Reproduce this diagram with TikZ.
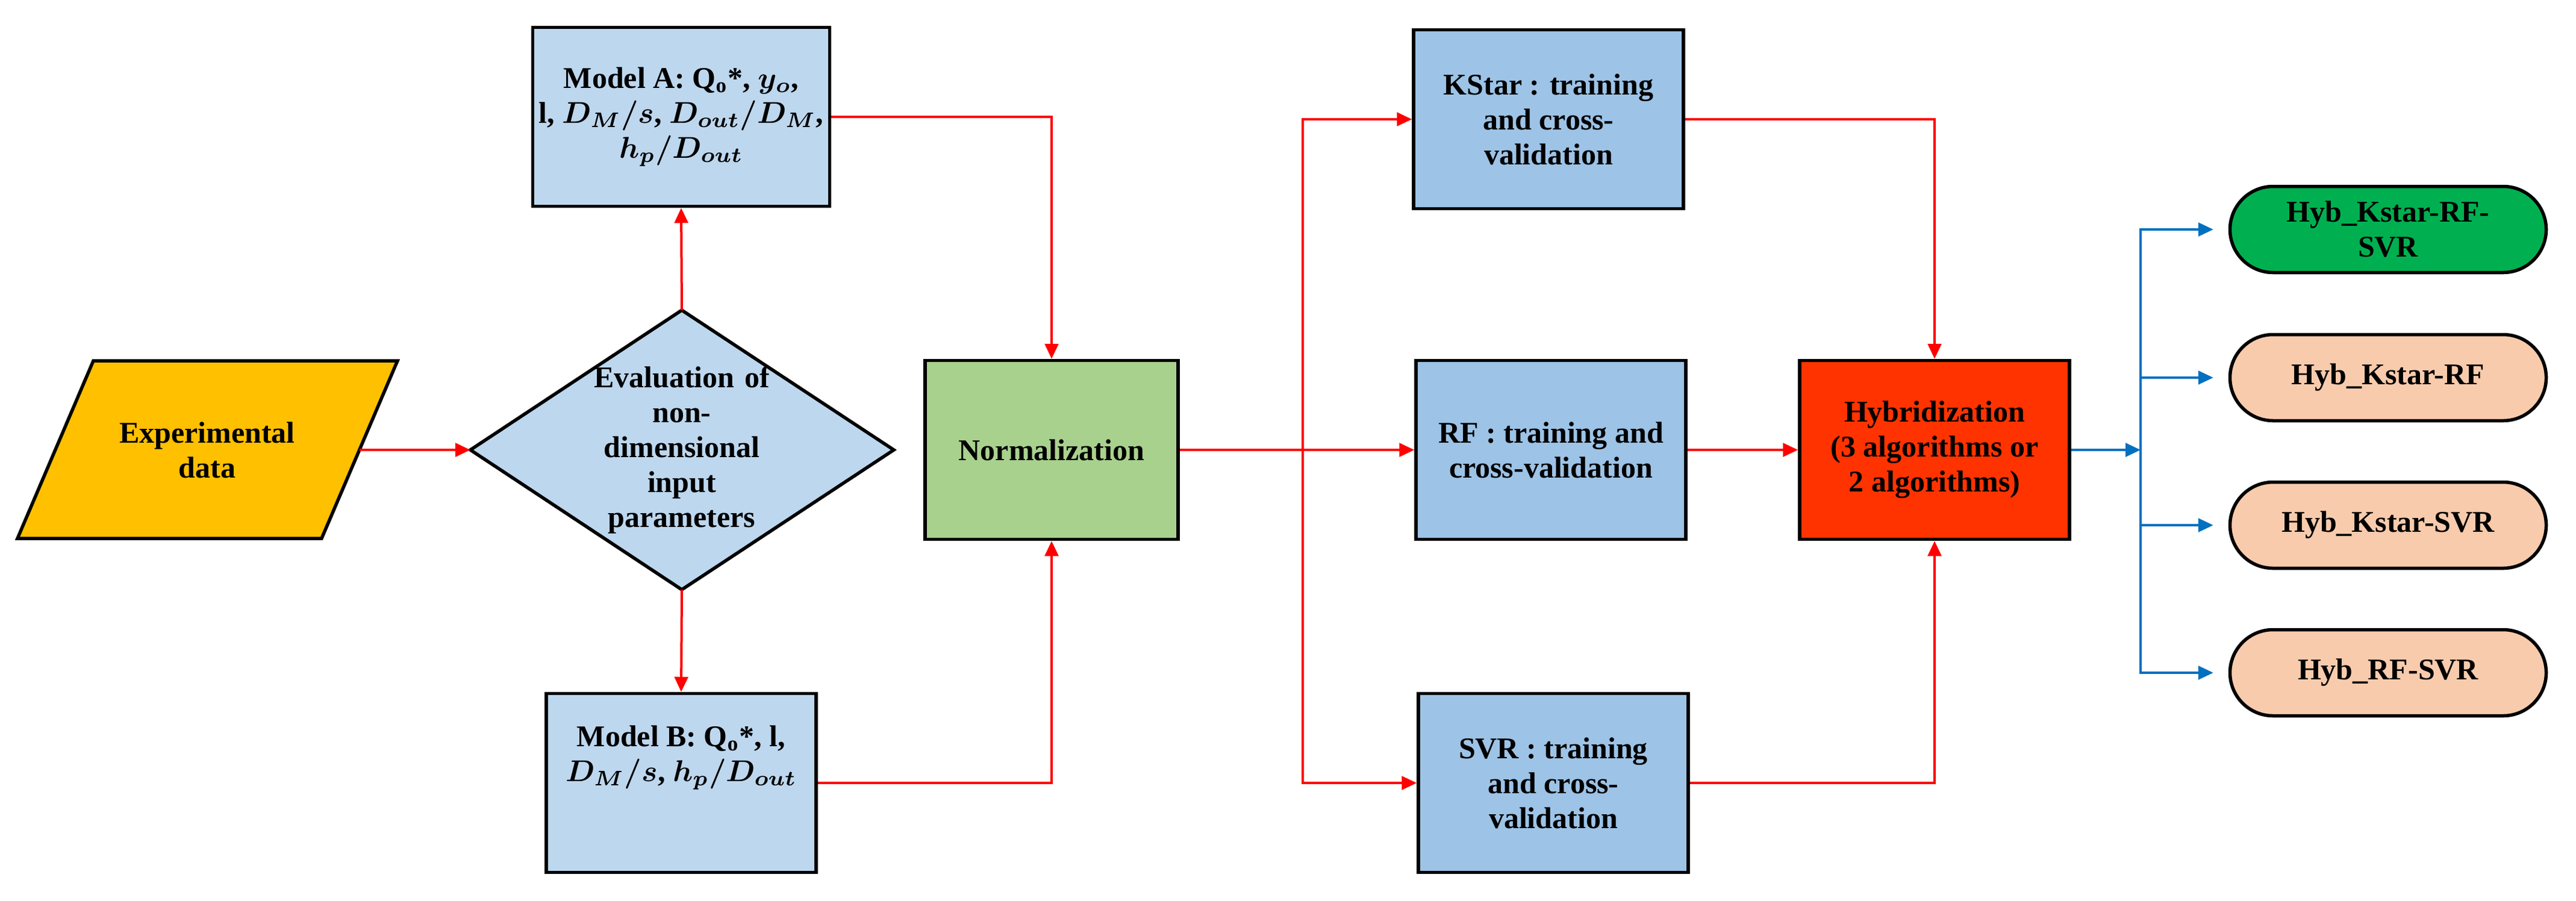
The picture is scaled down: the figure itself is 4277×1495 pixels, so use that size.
\documentclass[tikz,border=0pt]{standalone}
\usepackage{fontspec}
\setmainfont{Liberation Serif}
\usetikzlibrary{shapes.misc,arrows.meta}
\definecolor{yel}{HTML}{FFC000}
\definecolor{lb}{HTML}{BDD7EE}
\definecolor{mb}{HTML}{9DC3E6}
\definecolor{gr}{HTML}{A9D18E}
\definecolor{hr}{HTML}{FF3300}
\definecolor{gg}{HTML}{00B050}
\definecolor{pe}{HTML}{F8CBAD}
\definecolor{bl}{HTML}{0070C0}
\begin{document}
\begin{tikzpicture}[x=0.2pt,y=-0.2pt,
  txt/.style={font=\fontsize{10}{11.6}\selectfont\bfseries\boldmath, align=center},
  box/.style={txt, draw, line width=1.1pt, minimum width=89.6pt, minimum height=59.4pt, inner sep=2pt},
  oval/.style={txt, draw, line width=1.1pt, rounded rectangle, minimum width=107pt, minimum height=28.6pt, inner sep=1pt},
  ra/.style={draw=red, line width=0.8pt, -{Triangle[length=5pt,width=4.5pt]}},
  rl/.style={draw=red, line width=0.8pt},
  ba/.style={draw=bl, line width=0.8pt, -{Triangle[length=5pt,width=4.5pt]}, shorten >=5pt},
  bline/.style={draw=bl, line width=0.8pt}]
\useasboundingbox (0,0) rectangle (4277,1495);
% parallelogram
\draw[fill=yel, line width=1.1pt] (155,599) -- (660,599) -- (534,894) -- (29,894) -- cycle;
\node[txt] (exp) at (344,747) {Experimental\\data};
\coordinate (expR) at (597,747);
% diamond
\draw[fill=lb, line width=1.1pt] (1132,515) -- (1484,747) -- (1132,979) -- (781,747) -- cycle;
\node[txt, text width=70pt] (eval) at (1132,747) {Evaluation of\\non-\\dimensional\\input\\parameters};
\coordinate (dT) at (1132,515);
\coordinate (dB) at (1132,979);
\coordinate (dL) at (781,747);
\node[box, fill=lb] (A) at (1131,194) {Model A: Q$_\mathrm{o}$*, $y_o$,\\l, $D_M/s$, $D_{out}/D_M$,\\$h_p/D_{out}$};
\node[box, fill=lb] (B) at (1131,1300) {Model B: Q$_\mathrm{o}$*, l,\\$D_M/s$, $h_p/D_{out}$\\[8pt]};
\node[box, fill=gr, minimum width=84pt] (N) at (1746,747) {Normalization};
\node[box, fill=mb] (K) at (2571,198) {KStar : training\\and cross-\\validation};
\node[box, fill=mb] (R) at (2575,747) {RF : training and\\cross-validation};
\node[box, fill=mb] (S) at (2579,1300) {SVR : training\\and cross-\\validation};
\node[box, fill=hr] (H) at (3212,747) {Hybridization\\(3 algorithms or\\2 algorithms)};
\node[oval, fill=gg] (o1) at (3965,381) {Hyb\_Kstar-RF-\\SVR};
\node[oval, fill=pe] (o2) at (3965,627) {Hyb\_Kstar-RF};
\node[oval, fill=pe] (o3) at (3965,872) {Hyb\_Kstar-SVR};
\node[oval, fill=pe] (o4) at (3965,1117) {Hyb\_RF-SVR};
\coordinate (jn) at (2163,747);
\coordinate (bj) at (3554,747);
% red connectors
\draw[ra] (expR) -- (dL);
\draw[ra] (dT) -- (A.south);
\draw[ra] (dB) -- (B.north);
\draw[ra] (A.east) -| (N.north);
\draw[ra] (B.east) -| (N.south);
\draw[rl] (N.east) -- (jn);
\draw[ra] (jn) |- (K.west);
\draw[ra] (jn) -- (R.west);
\draw[ra] (jn) |- (S.west);
\draw[ra] (K.east) -| (H.north);
\draw[ra] (S.east) -| (H.south);
\draw[ra] (R.east) -- (H.west);
% blue connectors
\draw[draw=bl, line width=0.8pt, -{Triangle[length=5pt,width=4.5pt]}] (H.east) -- (bj);
\draw[ba] (bj) |- (o1.west);
\draw[ba] (bj) |- (o2.west);
\draw[ba] (bj) |- (o3.west);
\draw[ba] (bj) |- (o4.west);
\end{tikzpicture}
\end{document}
